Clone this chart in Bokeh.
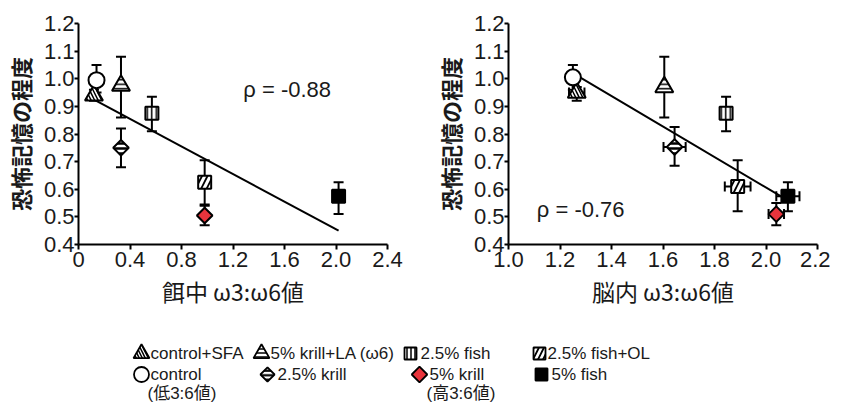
import math
from bokeh.plotting import figure
from bokeh.layouts import column, row
from bokeh.models import ColumnDataSource, Whisker, TeeHead, FixedTicker, Range1d, Label
from bokeh.embed import file_html
from bokeh.resources import INLINE
from bokeh.core.properties import value

# ---------------- data ----------------
groups = ["control+SFA", "5% krill+LA (ω6)", "2.5% fish", "2.5% fish+OL",
          "control", "2.5% krill", "5% krill", "5% fish"]
group_notes = ["", "", "", "", "(低3:6値)", "", "(高3:6値)", ""]

diet_x = [0.12, 0.33, 0.57, 0.98, 0.14, 0.33, 0.98, 2.02]
diet_y = [0.94, 0.975, 0.875, 0.625, 0.995, 0.75, 0.505, 0.575]
diet_lo = [0.92, 0.86, 0.81, 0.54, 0.95, 0.68, 0.47, 0.51]
diet_hi = [0.96, 1.08, 0.935, 0.705, 1.05, 0.82, 0.545, 0.625]

brain_x = [1.265, 1.605, 1.845, 1.89, 1.25, 1.645, 2.04, 2.085]
brain_y = [0.95, 0.97, 0.875, 0.61, 1.005, 0.753, 0.51, 0.575]
brain_lo = [0.92, 0.86, 0.81, 0.52, 0.96, 0.685, 0.47, 0.52]
brain_hi = [0.97, 1.08, 0.935, 0.705, 1.05, 0.825, 0.55, 0.625]
brain_xerr = [0.03, 0.0, 0.0, 0.05, 0.0, 0.043, 0.03, 0.045]

diet_fit_x = [0.11, 2.02]
diet_fit_y = [0.927, 0.45]
brain_fit_x = [1.25, 2.075]
brain_fit_y = [1.02, 0.565]

diet_rho = "ρ = -0.88"
brain_rho = "ρ = -0.76"

y_ticks = [0.4, 0.5, 0.6, 0.7, 0.8, 0.9, 1.0, 1.1, 1.2]
y_tick_labels = ["0.4", "0.5", "0.6", "0.7", "0.8", "0.9", "1.0", "1.1", "1.2"]
diet_ticks = [0, 0.4, 0.8, 1.2, 1.6, 2.0, 2.4]
diet_tick_labels = ["0", "0.4", "0.8", "1.2", "1.6", "2.0", "2.4"]
brain_ticks = [1.0, 1.2, 1.4, 1.6, 1.8, 2.0, 2.2]
brain_tick_labels = ["1.0", "1.2", "1.4", "1.6", "1.8", "2.0", "2.2"]

y_title = "恐怖記憶の程度"
diet_title = "餌中 ω3:ω6値"
brain_title = "脳内 ω3:ω6値"

# ---------------- styles ----------------
RED = "#e8343c"
markers = ["triangle", "triangle", "square", "square", "circle", "square", "square", "square"]
fills = ["white", "white", "white", "white", "white", "white", RED, "black"]
hatches = ["\\", "-", "|", "/", " ", "-", " ", " "]
hatch_scales = [7, 4.5, 4.5, 11, 6, 5, 6, 6]
hatch_weights = [1.5, 1.5, 1.5, 1.8, 1, 2.5, 1, 1]
sizes = [18, 18, 13, 13, 16, 11, 11, 13]
angles = [0, 0, 0, 0, 0, math.pi / 4, math.pi / 4, 0]

NUM_FONT = "Liberation Sans"
CJK_FONT = "Noto Sans CJK JP"
TXT = "#1a1a1a"


def panel(xs, ys, lo, hi, xr, xticks, xlabels, fit_x, fit_y, rho, rho_x, rho_y,
          xtitle, width, bl, br, xerr=None):
    p = figure(width=width, height=318, x_range=xr, y_range=Range1d(0.4, 1.2),
               output_backend="svg", toolbar_location=None,
               min_border_left=bl, min_border_right=br,
               min_border_top=23, min_border_bottom=74)
    p.outline_line_color = None
    p.grid.visible = False

    p.line(fit_x, fit_y, line_color="black", line_width=2)

    src = ColumnDataSource(dict(x=xs, y=ys, lo=lo, hi=hi, marker=markers, fill=fills,
                                hatch=hatches, hs=hatch_scales, hw=hatch_weights,
                                size=sizes, angle=angles))
    w = Whisker(source=src, base="x", lower="lo", upper="hi", line_width=2,
                line_color="black",
                lower_head=TeeHead(size=10, line_width=2, line_color="black"),
                upper_head=TeeHead(size=10, line_width=2, line_color="black"))
    p.add_layout(w)
    if xerr is not None:
        idx = [i for i, e in enumerate(xerr) if e > 0]
        xsrc = ColumnDataSource(dict(y=[ys[i] for i in idx],
                                     lo=[xs[i] - xerr[i] for i in idx],
                                     hi=[xs[i] + xerr[i] for i in idx]))
        wx = Whisker(source=xsrc, base="y", lower="lo", upper="hi", dimension="width",
                     line_width=2, line_color="black",
                     lower_head=TeeHead(size=10, line_width=2, line_color="black"),
                     upper_head=TeeHead(size=10, line_width=2, line_color="black"))
        p.add_layout(wx)

    p.scatter(x="x", y="y", source=src, marker="marker", size="size", angle="angle",
              fill_color="fill", line_color="black", line_width=2,
              hatch_pattern="hatch", hatch_color="black", hatch_scale="hs",
              hatch_weight="hw")

    p.add_layout(Label(x=rho_x, y=rho_y, text=rho, text_font=NUM_FONT,
                       text_font_size="22px", text_baseline="middle",
                       text_color=TXT))

    for ax in (p.xaxis[0], p.yaxis[0]):
        ax.axis_line_width = 2
        ax.axis_line_color = "black"
        ax.major_tick_line_width = 2
        ax.major_tick_line_color = "black"
        ax.major_tick_out = 5
        ax.major_tick_in = 0
        ax.minor_tick_line_color = None
        ax.major_label_text_font = NUM_FONT
        ax.major_label_text_font_size = "22px"
        ax.major_label_text_color = TXT
        ax.axis_label_text_font = CJK_FONT
        ax.axis_label_text_color = TXT

    p.yaxis.ticker = FixedTicker(ticks=y_ticks)
    p.yaxis.major_label_overrides = dict(zip(y_ticks, y_tick_labels))
    p.yaxis.major_label_standoff = 0
    p.yaxis.major_tick_out = 4
    p.yaxis.axis_label = y_title
    p.yaxis.axis_label_text_font_size = "22px"
    p.yaxis.axis_label_text_font_style = "bold"
    p.yaxis.axis_label_standoff = 5

    p.xaxis.ticker = FixedTicker(ticks=xticks)
    p.xaxis.major_label_overrides = dict(zip(xticks, xlabels))
    p.xaxis.major_label_standoff = 2
    p.xaxis.axis_label = xtitle
    p.xaxis.axis_label_text_font_size = "23px"
    p.xaxis.axis_label_text_font_style = "normal"
    p.xaxis.axis_label_standoff = 4
    return p


p1 = panel(diet_x, diet_y, diet_lo, diet_hi, Range1d(0, 2.4), diet_ticks, diet_tick_labels,
           diet_fit_x, diet_fit_y, diet_rho, 1.28, 0.96, diet_title, 430, 72, 43)
p2 = panel(brain_x, brain_y, brain_lo, brain_hi, Range1d(1.0, 2.2), brain_ticks,
           brain_tick_labels, brain_fit_x, brain_fit_y, brain_rho, 1.11, 0.525,
           brain_title, 400, 73, 13, xerr=brain_xerr)

# ---------------- legend ----------------
leg = figure(width=830, height=93, x_range=Range1d(8, 838), y_range=Range1d(411, 318),
             output_backend="svg", toolbar_location=None,
             min_border_left=0, min_border_right=0, min_border_top=0, min_border_bottom=0)
leg.axis.visible = False
leg.grid.visible = False
leg.outline_line_color = None

icon_x = [149, 269, 418, 547, 149, 275, 427, 549]
text_x = [158, 278, 428, 555, 158, 285, 437, 559]
row_y = [353, 374, 393]
rows = [0, 0, 0, 0, 1, 1, 1, 1]
leg_sizes = [16, 16, 12, 12, 15, 10, 11, 12]
leg_hs = [6, 4, 4, 10, 6, 4.5, 6, 6]
leg_hw = [1.5, 1.5, 1.5, 1.8, 1, 2.2, 1, 1]
lsrc = ColumnDataSource(dict(x=icon_x, y=[row_y[r] for r in rows], marker=markers,
                             fill=fills, hatch=hatches, hs=leg_hs, hw=leg_hw,
                             size=leg_sizes, angle=angles))
leg.scatter(x="x", y="y", source=lsrc, marker="marker", size="size", angle="angle",
            fill_color="fill", line_color="black", line_width=1.8,
            hatch_pattern="hatch", hatch_color="black", hatch_scale="hs", hatch_weight="hw")
tsrc = ColumnDataSource(dict(x=text_x, y=[row_y[r] for r in rows], t=groups))
leg.text(x="x", y="y", text="t", source=tsrc, text_font=value(NUM_FONT),
         text_font_size="17px", text_baseline="middle", text_color=TXT)
note_idx = [i for i, n in enumerate(group_notes) if n]
nsrc = ColumnDataSource(dict(x=[text_x[i] - 3 for i in note_idx],
                             y=[row_y[2]] * len(note_idx),
                             t=[group_notes[i] for i in note_idx]))
leg.text(x="x", y="y", text="t", source=nsrc, text_font=value(NUM_FONT + ", " + CJK_FONT),
         text_font_size="17px", text_baseline="middle", text_color=TXT)

layout = column(row(p1, p2, spacing=0), leg, spacing=0)
open("out.html", "w").write(file_html(layout, INLINE))
